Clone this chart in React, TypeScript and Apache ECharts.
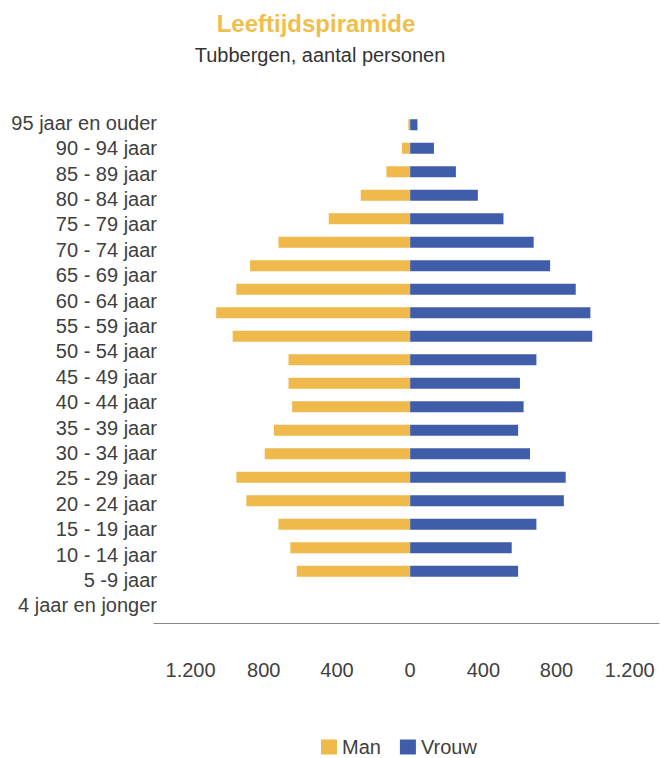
import React, { useEffect, useRef } from "react";
import * as echarts from "echarts";

const categories = [
  "95 jaar en ouder",
  "90 - 94 jaar",
  "85 - 89 jaar",
  "80 - 84 jaar",
  "75 - 79 jaar",
  "70 - 74 jaar",
  "65 - 69 jaar",
  "60 - 64 jaar",
  "55 - 59 jaar",
  "50 - 54 jaar",
  "45 - 49 jaar",
  "40 - 44 jaar",
  "35 - 39 jaar",
  "30 - 34 jaar",
  "25 - 29 jaar",
  "20 - 24 jaar",
  "15 - 19 jaar",
  "10 - 14 jaar",
  "5 -9 jaar",
  "4 jaar en jonger",
];

const man = [10, 45, 130, 270, 445, 720, 875, 950, 1060, 970, 665, 665, 645, 745, 795, 950, 895, 720, 655, 620];
const vrouw = [40, 130, 250, 370, 510, 675, 765, 905, 985, 995, 690, 600, 620, 590, 655, 850, 840, 690, 555, 590];

const tickValues = [-1200, -800, -400, 0, 400, 800, 1200];

const FONT = '"Liberation Sans", Arial, sans-serif';

function fmt(v: number): string {
  return String(Math.abs(v)).replace(/\B(?=(\d{3})+(?!\d))/g, ".");
}

export default function App() {
  const ref = useRef<HTMLDivElement>(null);
  useEffect(() => {
    if (!ref.current) return;
    const chart = echarts.init(ref.current, undefined, { renderer: "svg" });
    chart.setOption({
      animation: false,
      backgroundColor: "#ffffff",
      textStyle: { fontFamily: FONT },
      graphic: [
        {
          type: "text",
          x: 316,
          y: 23,
          style: {
            text: "Leeftijdspiramide",
            fill: "#F0BE4C",
            font: 'bold 24px "Liberation Sans", Arial, sans-serif',
            textAlign: "center",
            textVerticalAlign: "middle",
          },
        },
        {
          type: "text",
          x: 320,
          y: 55,
          style: {
            text: "Tubbergen, aantal personen",
            fill: "#333333",
            font: '20px "Liberation Sans", Arial, sans-serif',
            textAlign: "center",
            textVerticalAlign: "middle",
          },
        },
      ],
      legend: {
        data: ["Man", "Vrouw"],
        left: 321,
        top: 737,
        icon: "rect",
        itemWidth: 16,
        itemHeight: 15,
        itemGap: 19,
        padding: 0,
        textStyle: { fontSize: 20, color: "#404040", fontFamily: FONT },
      },
      grid: [
        { left: 154, width: 505, top: 113, height: 470 },
        { left: 160, width: 10, top: 110, height: 508 },
      ],
      xAxis: [
        {
          type: "value",
          gridIndex: 0,
          min: -1400,
          max: 1360,
          offset: 40,
          splitLine: { show: false },
          axisTick: { show: false },
          axisLine: { show: true, lineStyle: { color: "#888888", width: 1 } },
          axisLabel: {
            customValues: tickValues,
            formatter: (v: number) => fmt(v),
            fontSize: 20,
            color: "#404040",
            margin: 37,
            fontFamily: FONT,
          },
        },
        {
          type: "value",
          gridIndex: 1,
          min: 0,
          max: 1,
          show: false,
        },
      ],
      yAxis: [
        {
          type: "category",
          gridIndex: 0,
          data: categories,
          inverse: true,
          show: false,
        },
        {
          type: "category",
          gridIndex: 1,
          data: categories,
          inverse: true,
          axisLine: { show: false },
          axisTick: { show: false },
          splitLine: { show: false },
          axisLabel: {
            interval: 0,
            fontSize: 20,
            color: "#404040",
            margin: 3,
            fontFamily: FONT,
          },
        },
      ],
      series: [
        {
          name: "Man",
          type: "bar",
          xAxisIndex: 0,
          yAxisIndex: 0,
          stack: "pyr",
          barWidth: 11,
          itemStyle: { color: "#F0B94B" },
          data: man.map((v) => -v),
        },
        {
          name: "Vrouw",
          type: "bar",
          xAxisIndex: 0,
          yAxisIndex: 0,
          stack: "pyr",
          barWidth: 11,
          itemStyle: { color: "#3F5DA9" },
          data: vrouw,
        },
      ],
    });
    return () => chart.dispose();
  }, []);
  return (
    <div
      ref={ref}
      style={{ position: "fixed", left: 0, top: 0, width: 660, height: 758 }}
    />
  );
}
